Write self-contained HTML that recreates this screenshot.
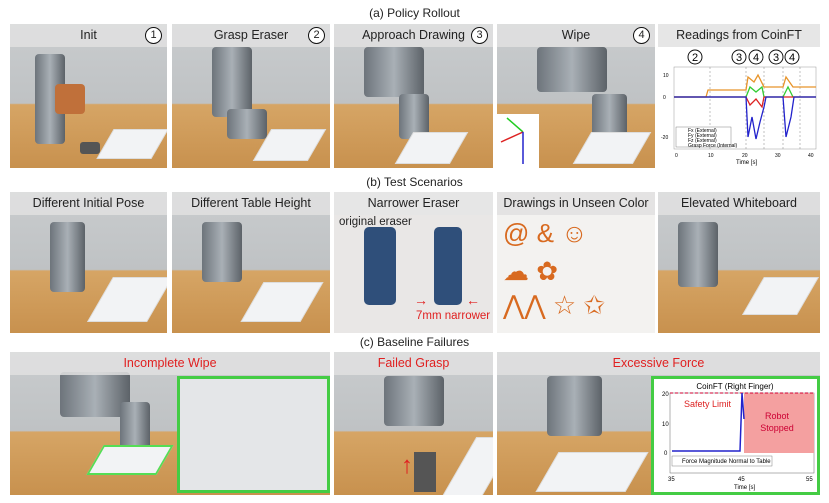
<!DOCTYPE html>
<html><head><meta charset="utf-8"><style>
*{margin:0;padding:0;box-sizing:border-box}
body{width:829px;height:503px;background:#fff;position:relative;overflow:hidden;font-family:"Liberation Sans",sans-serif}
.t{position:absolute;left:0;width:829px;text-align:center;font-size:12px;color:#222}
.p{position:absolute;overflow:hidden;background:linear-gradient(180deg,#c9ccce 0%,#bfc2c4 55%,#d6a565 56%,#c8914e 100%)}
.h{position:absolute;left:0;top:0;width:100%;height:23px;background:rgba(225,225,225,0.85);font-size:12.5px;color:#222;text-align:center;line-height:23px;white-space:nowrap}
.n{position:absolute;top:3px;right:5px;width:17px;height:17px;border:1.3px solid #111;border-radius:50%;font-size:11px;line-height:15px;text-align:center;background:#fff}
.wb{position:absolute;background:#f2f3f5;border:1px solid #ddd;transform:skewX(-30deg)}
.rob{position:absolute;background:linear-gradient(90deg,#6d747b,#a9b0b6,#5c6268);border-radius:4px}
.red{color:#e02020}
</style></head><body>
<div class="t" style="top:6px">(a) Policy Rollout</div>
<div class="t" style="top:175px">(b) Test Scenarios</div>
<div class="t" style="top:335px">(c) Baseline Failures</div>

<!-- row 1 -->
<div class="p" style="left:10px;top:24px;width:157px;height:144px"><div class="rob" style="left:25px;top:30px;width:30px;height:90px"></div><div class="rob" style="left:45px;top:60px;width:30px;height:30px;background:#c0703a"></div><div class="wb" style="left:95px;top:105px;width:55px;height:30px"></div><div style="position:absolute;left:70px;top:118px;width:20px;height:12px;background:#555;border-radius:3px"></div><div class="h">Init<div class="n">1</div></div></div>
<div class="p" style="left:172px;top:24px;width:158px;height:144px"><div class="rob" style="left:40px;top:23px;width:40px;height:70px"></div><div class="rob" style="left:55px;top:85px;width:40px;height:30px"></div><div class="wb" style="left:90px;top:105px;width:55px;height:32px"></div><div class="h">Grasp Eraser<div class="n">2</div></div></div>
<div class="p" style="left:334px;top:24px;width:159px;height:144px"><div class="rob" style="left:30px;top:23px;width:60px;height:50px"></div><div class="rob" style="left:65px;top:70px;width:30px;height:45px"></div><div class="wb" style="left:70px;top:108px;width:55px;height:32px"></div><div class="h">Approach Drawing<div class="n">3</div></div></div>
<div class="p" style="left:497px;top:24px;width:158px;height:144px"><div class="rob" style="left:40px;top:23px;width:70px;height:45px"></div><div class="rob" style="left:95px;top:70px;width:35px;height:45px"></div><div class="wb" style="left:85px;top:108px;width:60px;height:32px"></div><div style="position:absolute;left:0;top:90px;width:42px;height:54px;background:#fff"><svg width="42" height="54"><line x1="26" y1="18" x2="10" y2="4" stroke="#2c2" stroke-width="1.5"/><line x1="26" y1="18" x2="4" y2="28" stroke="#d22" stroke-width="1.5"/><line x1="26" y1="18" x2="26" y2="50" stroke="#22c" stroke-width="1.5"/></svg></div><div class="h">Wipe<div class="n">4</div></div></div>
<div class="p" style="left:658px;top:24px;width:162px;height:144px;background:#fff"><div class="h" style="background:#e6e6e6">Readings from CoinFT</div>
<svg style="position:absolute;left:0;top:23px" width="162" height="121" font-family="Liberation Sans" font-size="5">
<g font-size="11" text-anchor="middle"><circle cx="37" cy="10" r="7" fill="none" stroke="#111"/><text x="37" y="14">2</text><circle cx="81" cy="10" r="7" fill="none" stroke="#111"/><text x="81" y="14">3</text><circle cx="98" cy="10" r="7" fill="none" stroke="#111"/><text x="98" y="14">4</text><circle cx="118" cy="10" r="7" fill="none" stroke="#111"/><text x="118" y="14">3</text><circle cx="134" cy="10" r="7" fill="none" stroke="#111"/><text x="134" y="14">4</text></g>
<rect x="16" y="20" width="142" height="82" fill="none" stroke="#999" stroke-width=".5"/>
<g stroke="#999" stroke-dasharray="2,2" stroke-width=".6"><line x1="52" y1="20" x2="52" y2="102"/><line x1="88" y1="20" x2="88" y2="102"/><line x1="106" y1="20" x2="106" y2="102"/><line x1="125" y1="20" x2="125" y2="102"/><line x1="142" y1="20" x2="142" y2="102"/></g>
<polyline points="16,50 48,50 50,43 88,43 90,30 96,35 100,28 106,40 125,40 128,30 135,40 158,40" fill="none" stroke="#e8942a" stroke-width="1.3"/>
<polyline points="16,50 88,50 92,40 98,45 104,40 106,50 125,50 130,40 135,50 158,50" fill="none" stroke="#3c3" stroke-width="1.3"/>
<polyline points="16,50 88,50 92,58 98,52 104,60 106,50 158,50" fill="none" stroke="#d22" stroke-width="1.3"/>
<polyline points="16,50 88,50 90,90 94,70 98,92 102,75 106,60 108,50 125,50 128,90 133,70 136,50 158,50" fill="none" stroke="#22c" stroke-width="1.3"/>
<rect x="18" y="80" width="55" height="20" fill="#fff" stroke="#666" stroke-width=".4"/>
<text x="30" y="85">Fx (External)</text><text x="30" y="90">Fy (External)</text><text x="30" y="95">Fz (External)</text><text x="30" y="100">Grasp Force (Internal)</text>
<text x="5" y="52">0</text><text x="5" y="30">10</text><text x="3" y="92">-20</text>
<text x="17" y="110">0</text><text x="50" y="110">10</text><text x="84" y="110">20</text><text x="117" y="110">30</text><text x="150" y="110">40</text><text x="78" y="117" font-size="6">Time [s]</text>
</svg></div>

<!-- row 2 -->
<div class="p" style="left:10px;top:192px;width:157px;height:141px"><div class="rob" style="left:40px;top:30px;width:35px;height:70px"></div><div class="wb" style="left:90px;top:85px;width:60px;height:45px"></div><div class="h">Different Initial Pose</div></div>
<div class="p" style="left:172px;top:192px;width:158px;height:141px"><div class="rob" style="left:30px;top:30px;width:40px;height:60px"></div><div class="wb" style="left:80px;top:90px;width:60px;height:40px"></div><div class="h">Different Table Height</div></div>
<div class="p" style="left:334px;top:192px;width:159px;height:141px;background:#e9e7e6"><div style="position:absolute;left:30px;top:35px;width:32px;height:78px;background:#2f4f7a;border-radius:5px"></div><div style="position:absolute;left:100px;top:35px;width:28px;height:78px;background:#2f4f7a;border-radius:5px"></div><div style="position:absolute;left:5px;top:24px;font-size:11.5px;color:#222">original eraser</div><div class="red" style="position:absolute;left:82px;top:118px;font-size:11.5px;white-space:nowrap">7mm narrower</div><div class="red" style="position:absolute;left:80px;top:100px;font-size:14px">→</div><div class="red" style="position:absolute;left:132px;top:100px;font-size:14px">←</div><div class="h" style="background:#e6e6e6">Narrower Eraser</div></div>
<div class="p" style="left:497px;top:192px;width:158px;height:141px;background:#f3f2f0;color:#d86a20;font-size:26px"><div style="position:absolute;left:6px;top:26px">@ &amp; ☺</div><div style="position:absolute;left:6px;top:64px">☁ ✿</div><div style="position:absolute;left:6px;top:98px">⋀⋀ ☆ ✩</div><div class="h">Drawings in Unseen Color</div></div>
<div class="p" style="left:658px;top:192px;width:162px;height:141px"><div class="rob" style="left:20px;top:30px;width:40px;height:65px"></div><div class="wb" style="left:95px;top:85px;width:55px;height:38px"></div><div class="h">Elevated Whiteboard</div></div>

<!-- row 3 -->
<div class="p" style="left:10px;top:352px;width:320px;height:143px"><div class="rob" style="left:50px;top:20px;width:70px;height:45px"></div><div class="rob" style="left:110px;top:50px;width:30px;height:60px"></div><div class="wb" style="left:85px;top:93px;width:70px;height:30px;border:2px solid #5d5"></div>
<div style="position:absolute;left:167px;top:24px;width:153px;height:117px;background:#e4e6e8;border:3px solid #4c4"></div><div class="h red">Incomplete Wipe</div></div>
<div class="p" style="left:334px;top:352px;width:159px;height:143px"><div class="rob" style="left:50px;top:24px;width:60px;height:50px"></div><div style="position:absolute;left:80px;top:100px;width:22px;height:40px;background:#555"></div><div class="red" style="position:absolute;left:67px;top:100px;font-size:24px">↑</div><div class="wb" style="left:125px;top:85px;width:40px;height:60px"></div><div class="h red">Failed Grasp</div></div>
<div class="p" style="left:497px;top:352px;width:323px;height:143px"><div class="rob" style="left:50px;top:24px;width:55px;height:60px"></div><div class="wb" style="left:50px;top:100px;width:90px;height:40px"></div>
<div style="position:absolute;left:154px;top:24px;width:169px;height:119px;background:#fff;border:3px solid #4c4">
<svg width="163" height="113" font-family="Liberation Sans" font-size="6"><text x="81" y="10" text-anchor="middle" font-size="8">CoinFT (Right Finger)</text>
<rect x="16" y="14" width="144" height="80" fill="none" stroke="#666" stroke-width=".5"/>
<rect x="90" y="14" width="70" height="60" fill="#f4a0a0"/>
<line x1="16" y1="14" x2="160" y2="14" stroke="#c03" stroke-dasharray="3,2"/>
<text x="123" y="40" text-anchor="middle" font-size="9" fill="#c03">Robot</text><text x="123" y="52" text-anchor="middle" font-size="9" fill="#c03">Stopped</text>
<text x="30" y="28" font-size="9" fill="#d22">Safety Limit</text>
<polyline points="18,72 86,72 88,14 90,40" fill="none" stroke="#22c" stroke-width="1.5"/>
<rect x="18" y="77" width="100" height="10" fill="#fff" stroke="#666" stroke-width=".4"/><text x="28" y="84">Force Magnitude Normal to Table</text>
<text x="8" y="17">20</text><text x="8" y="47">10</text><text x="10" y="76">0</text>
<text x="14" y="102">35</text><text x="84" y="102">45</text><text x="152" y="102">55</text><text x="80" y="110">Time [s]</text></svg></div>
<div class="h red">Excessive Force</div></div>
</body></html>
